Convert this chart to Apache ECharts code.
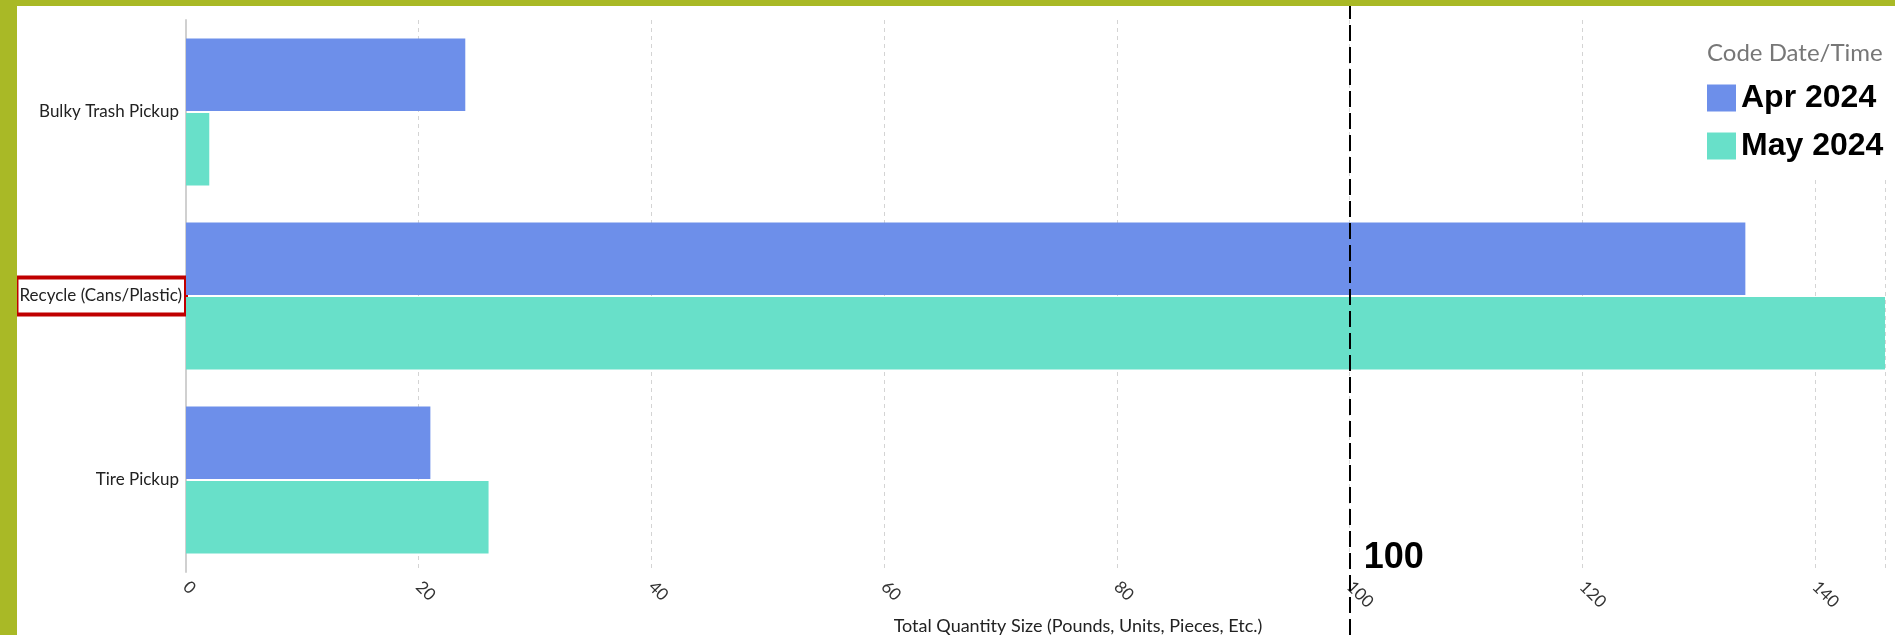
<!DOCTYPE html>
<html>
<head>
<meta charset="utf-8">
<title>Total Quantity Size</title>
<script src="https://cdn.jsdelivr.net/npm/echarts@6/dist/echarts.min.js"></script>
<style>
    html, body {
        margin: 0;
        padding: 0;
        width: 1895px;
        height: 635px;
        background: #a9b926;
        overflow: hidden;
    }
    #chart {
        position: absolute;
        left: 17px;
        top: 6px;
        width: 1878px;
        height: 629px;
        background: #fff;
    }
</style>
</head>
<body>
<div id="chart"></div>
<script>
// 数据
var categories = ['Bulky Trash Pickup', 'Recycle (Cans/Plastic)', 'Tire Pickup'];
var seriesNames = ['Apr 2024', 'May 2024'];
var aprValues = [24, 134, 21];
var mayValues = [2, 146, 26];
var highlightCategory = 'Recycle (Cans/Plastic)';
var referenceValue = 100;
var tickStep = 20;

var chart0 = echarts.init(document.getElementById('chart'));

var option = {
    animation: false,
    title: {
        text: 'Code Date/Time',
        left: 1680,
        top: 0,
        padding: [35, 20, 10, 10],
        backgroundColor: '#fff',
        textStyle: {
            fontFamily: 'Lato',
            fontSize: 24,
            fontWeight: 'normal',
            color: '#777'
        }
    },
    legend: {
        data: seriesNames,
        orient: 'vertical',
        left: 1680,
        top: 66,
        padding: [10, 20, 17, 10],
        backgroundColor: '#fff',
        itemWidth: 29,
        itemHeight: 27,
        itemGap: 16,
        icon: 'rect',
        textStyle: {
            fontFamily: 'Liberation Sans, Arial',
            fontSize: 32,
            fontWeight: 'bold',
            color: '#000'
        }
    },
    grid: [
        {left: 169, right: 10, top: 14, bottom: 63, outerBoundsMode: 'none', containLabel: false},
        // 参考线用的整高网格
        {left: 169, right: 10, top: 0, bottom: 0, outerBoundsMode: 'none', containLabel: false}
    ],
    xAxis: [
        {
            type: 'value',
            gridIndex: 0,
            min: 0,
            max: 'dataMax',
            interval: tickStep,
            name: 'Total Quantity Size (Pounds, Units, Pieces, Etc.)',
            nameLocation: 'middle',
            nameGap: 45,
            nameMoveOverlap: false,
            nameTextStyle: {
                fontFamily: 'Lato',
                fontSize: 18,
                color: '#222',
                padding: [0, 0, 0, 85]
            },
            axisLine: {show: false},
            axisTick: {show: false},
            axisLabel: {
                rotate: -45,
                margin: 12,
                showMaxLabel: false,
                fontFamily: 'Lato',
                fontSize: 17,
                color: '#333'
            },
            splitLine: {
                show: true,
                lineStyle: {color: '#d4d4d4', type: [4, 4], width: 1}
            }
        },
        {
            type: 'value',
            gridIndex: 1,
            min: 0,
            max: Math.max.apply(null, aprValues.concat(mayValues)),
            show: false
        }
    ],
    yAxis: [
        {
            type: 'category',
            gridIndex: 0,
            data: categories,
            inverse: true,
            axisLine: {lineStyle: {color: '#d0d0d0', width: 2}},
            axisTick: {show: false},
            axisLabel: {
                margin: 0,
                fontFamily: 'Lato',
                fontSize: 17,
                color: '#222',
                formatter: function (v) {
                    return v === highlightCategory ? '{hl|' + v + '}' : '{n|' + v + '}';
                },
                rich: {
                    n: {
                        fontFamily: 'Lato',
                        fontSize: 17,
                        color: '#222',
                        padding: [0, 7, 0, 0]
                    },
                    hl: {
                        fontFamily: 'Lato',
                        fontSize: 17,
                        color: '#222',
                        lineHeight: 20,
                        borderColor: '#c00000',
                        borderWidth: 4,
                        padding: [10, 4, 10, 3]
                    }
                }
            },
            splitLine: {show: false}
        },
        {
            type: 'value',
            gridIndex: 1,
            min: 0,
            max: 1,
            show: false
        }
    ],
    series: [
        {
            name: seriesNames[0],
            type: 'bar',
            data: aprValues,
            barCategoryGap: '20%',
            barGap: '3%',
            itemStyle: {color: '#6d8fea'}
        },
        {
            name: seriesNames[1],
            type: 'bar',
            data: mayValues,
            barCategoryGap: '20%',
            barGap: '3%',
            itemStyle: {color: '#68e0c9'}
        },
        {
            name: 'ref',
            type: 'scatter',
            xAxisIndex: 1,
            yAxisIndex: 1,
            data: [],
            z: 10,
            markLine: {
                silent: true,
                symbol: 'none',
                lineStyle: {color: '#000', width: 2, type: [16, 6]},
                label: {
                    show: true,
                    position: 'start',
                    formatter: String(referenceValue),
                    offset: [44, -100],
                    fontFamily: 'Liberation Sans, Arial',
                    fontSize: 36,
                    fontWeight: 'bold',
                    color: '#000'
                },
                data: [{xAxis: referenceValue}]
            }
        }
    ]
};
chart0.setOption(option);
</script>
</body>
</html>
